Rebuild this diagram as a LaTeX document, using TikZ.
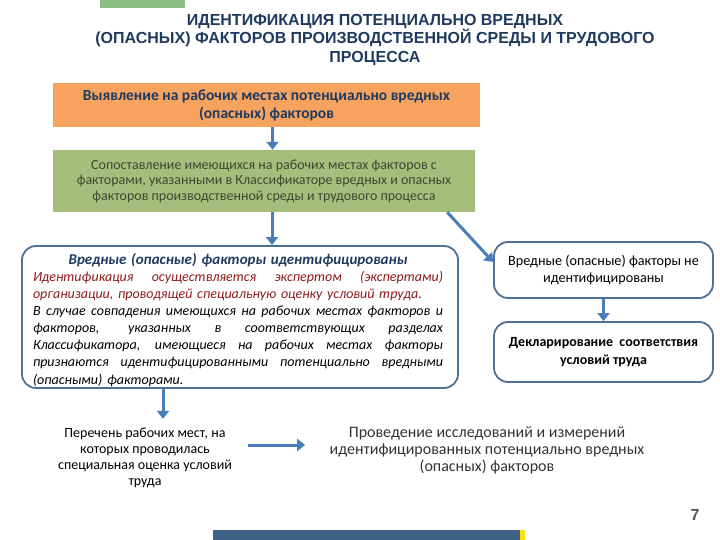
\documentclass[tikz,border=0pt]{standalone}
\usepackage{fontspec}
\setmainfont{Carlito}
\newfontfamily\headfont{Liberation Sans}
\usepackage{xcolor}
\usetikzlibrary{arrows.meta, positioning, calc}

\definecolor{navy}{HTML}{1F3A5F}
\definecolor{orangefill}{HTML}{F5A35F}
\definecolor{greenfill}{HTML}{A6BE7C}
\definecolor{greentext}{HTML}{3E4532}
\definecolor{frameblue}{HTML}{4A7196}
\definecolor{arrowblue}{HTML}{4A7EBB}
\definecolor{darkred}{HTML}{8E1B1B}
\definecolor{barblue}{HTML}{3E6286}
\definecolor{bargreen}{HTML}{8CBF84}
\definecolor{pagegray}{HTML}{555555}

% one justified line of the identification text
\newcommand{\jline}[1]{\makebox[410pt][s]{\spaceskip=0pt\xspaceskip=0pt #1}}

\begin{document}
\begin{tikzpicture}[
    x=1pt, y=-1pt,
    flat/.style={minimum width=#1, inner sep=3pt, align=center},
    roundbox/.style={draw=frameblue, line width=1.8pt, rounded corners=14pt, fill=white, minimum width=219pt},
    flow/.style={draw=arrowblue, line width=3pt, -{Triangle[width=12pt, length=8pt]}},
]
\useasboundingbox (0,0) rectangle (720,540);

% top and bottom bars
\fill[bargreen] (100,0) rectangle (185,8);
\fill[barblue] (213,530) rectangle (520,540);
\fill[yellow!80!orange] (520,530) rectangle (525,540);

% title
\node[font=\headfont\bfseries\fontsize{16}{18.5}\selectfont, text=navy, align=center] (title) at (375,40)
    {ИДЕНТИФИКАЦИЯ ПОТЕНЦИАЛЬНО ВРЕДНЫХ\\(ОПАСНЫХ) ФАКТОРОВ ПРОИЗВОДСТВЕННОЙ СРЕДЫ И ТРУДОВОГО\\ПРОЦЕССА};

% main chain
\node[flat=427pt, minimum height=44pt, fill=orangefill, text=navy, font=\bfseries\fontsize{15.5}{18}\selectfont] (reveal) at (266.5,105)
    {Выявление на рабочих местах потенциально вредных\\(опасных) факторов};
\node[flat=422pt, minimum height=62pt, fill=greenfill, text=greentext, font=\fontsize{14}{15.5}\selectfont] (compare) at (264,181)
    {Сопоставление имеющихся на рабочих местах факторов с\\факторами, указанными в Классификаторе вредных и опасных\\факторов производственной среды и трудового процесса};

\node[roundbox, minimum width=436pt, minimum height=142pt, inner sep=0pt] (ident) at (240,317) {};
\node[text width=410pt, inner sep=0pt, align=left, anchor=north, font=\itshape\fontsize{14}{17.1}\selectfont] (identtext) at (238,253)
    {\makebox[410pt][c]{\bfseries\color{navy}\fontsize{15}{17}\selectfont Вредные (опасные) факторы идентифицированы}\\
     \color{darkred}\jline{Идентификация осуществляется экспертом (экспертами)}\\
     организации, проводящей специальную оценку условий труда.\\
     \color{black}\jline{В случае совпадения имеющихся на рабочих местах факторов и}\\
     \jline{факторов, указанных в соответствующих разделах}\\
     \jline{Классификатора, имеющиеся на рабочих местах факторы}\\
     \jline{признаются идентифицированными потенциально вредными}\\
     (опасными) факторами.};

\node[roundbox, minimum height=56pt, align=center, font=\fontsize{14.2}{17.5}\selectfont] (notident) at (603.5,270)
    {Вредные (опасные) факторы не\\идентифицированы};
\node[roundbox, minimum height=60pt, align=center, font=\bfseries\fontsize{14}{17.5}\selectfont] (declare) at (603.5,352)
    {Декларирование\ \ соответствия\\условий труда};

\node[align=center, font=\fontsize{14}{16}\selectfont] (worklist) at (145,458)
    {Перечень рабочих мест, на\\которых проводилась\\специальная оценка условий\\труда};
\node[align=center, text=black!80, font=\fontsize{16}{17}\selectfont] (research) at (487,450)
    {Проведение исследований и измерений\\идентифицированных потенциально вредных\\(опасных) факторов};

\node[font=\headfont\bfseries\fontsize{16}{18}\selectfont, text=pagegray] (page) at (695,515) {7};

% arrows
\coordinate (listtail) at ([xshift=13pt,yshift=13pt]worklist.east);
\coordinate (listtip) at ($(listtail -| research.west)+(-21,0)$);
\draw[flow] ([xshift=6pt]reveal.south) -- ([xshift=6pt]reveal.south |- compare.north);
\draw[flow] ([xshift=8pt]compare.south) -- ([xshift=8pt]compare.south |- ident.north);
\draw[flow] ([xshift=-28pt]compare.south east) -- ([yshift=8pt]notident.west);
\draw[flow] (notident.south) -- (declare.north);
\draw[flow] ([xshift=-77pt]ident.south) -- ++(0,30);
\draw[flow] (listtail) -- (listtip);
\end{tikzpicture}
\end{document}
